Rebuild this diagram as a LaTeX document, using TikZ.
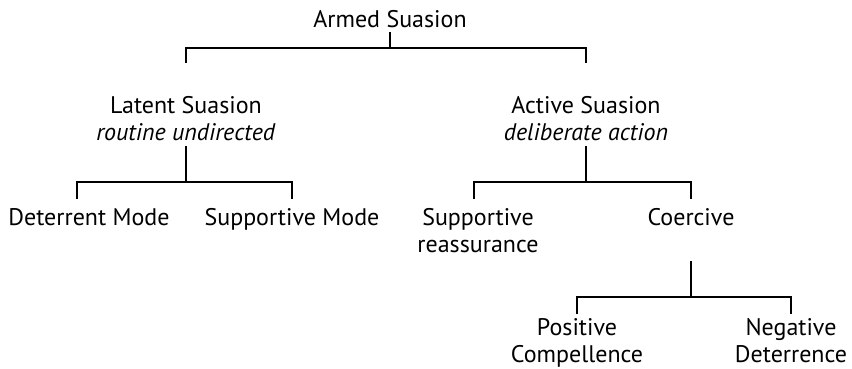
\documentclass[tikz,border=0pt]{standalone}
\usepackage{fontspec}
\setmainfont{PT Sans}
\usetikzlibrary{positioning}

\tikzset{
  term/.style={inner sep=0pt, align=center, anchor=base, font=\fontsize{24}{27}\selectfont},
  bracket/.style={line width=1.7pt}
}

\begin{document}
\begin{tikzpicture}[x=1pt,y=-1pt]
  \useasboundingbox (0,0) rectangle (852,369);

  \node[term] (armed) at (390,28) {Armed Suasion};

  % two-line nodes sit on the baseline of their last line
  \node[term] (latent) at (186,140) {Latent Suasion\\\textit{routine undirected}};
  \node[term] (active) at (586,140) {Active Suasion\\\textit{deliberate action}};

  \node[term] (deterrent) at (89,225) {Deterrent Mode};
  \node[term] (supmode) at (292,225) {Supportive Mode};
  \node[term] (reassure) at (478,252) {Supportive\\reassurance};
  \node[term] (coercive) at (691,225) {Coercive};

  \node[term] (positive) at (577,362) {Positive\\Compellence};
  \node[term] (negative) at (791,362) {Negative\\Deterrence};

  % height of the horizontal bars
  \coordinate (bar1) at (0,48);
  \coordinate (bar2) at (0,182);
  \coordinate (bar3) at (0,297);

  \draw[bracket, shorten <=4pt] (armed.south) -- (armed |- bar1);
  \draw[bracket, shorten <=33pt, shorten >=33pt] (latent.north) |- (armed |- bar1) -| (active.north);

  \draw[bracket, shorten <=6pt] (latent.south) -- (latent |- bar2);
  \draw[bracket, shorten <=9pt, shorten >=9pt] ([xshift=-12pt]deterrent.north) |- (latent |- bar2) -| (supmode.north);

  \draw[bracket, shorten <=6pt] (active.south) -- (active |- bar2);
  \draw[bracket, shorten <=9pt, shorten >=9pt] ([xshift=-4pt]reassure.north) |- (active |- bar2) -| (coercive.north);

  \draw[bracket, shorten <=36pt] (coercive.south) -- (coercive |- bar3);
  \draw[bracket, shorten <=4pt, shorten >=4pt] (positive.north) |- (coercive |- bar3) -| (negative.north);

\end{tikzpicture}
\end{document}
